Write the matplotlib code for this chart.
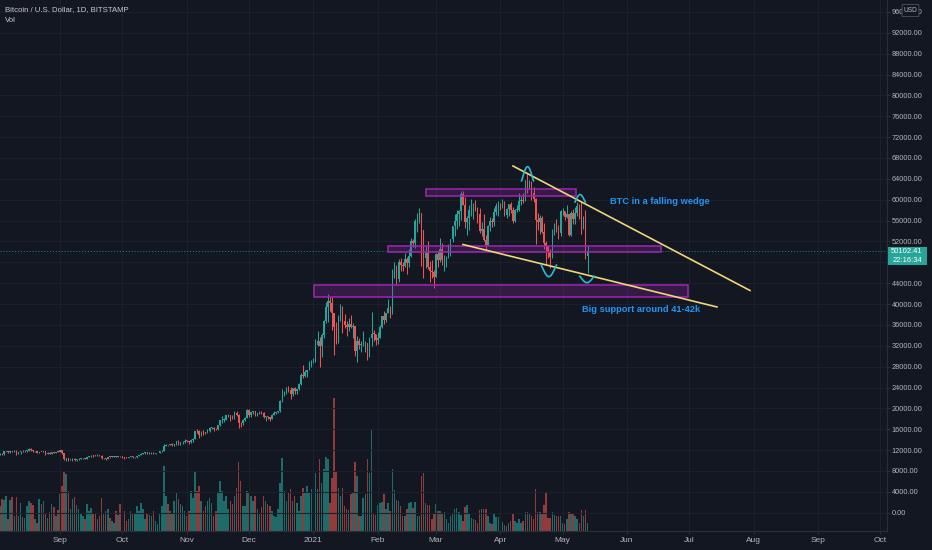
import numpy as np
import pandas as pd
import matplotlib
matplotlib.use("Agg")
import matplotlib.pyplot as plt
import matplotlib.dates as mdates
from matplotlib.patches import Rectangle, FancyBboxPatch

# daily candles, Bitstamp BTC/USD, from 2020-08-03 to 2021-05-13
START = "2020-08-03"
FIRST_OPEN = 11060

closes = [
    # Aug
    11230, 11190, 11740, 11770, 11600, 11750, 11680, 11880, 11400, 11580,
    11780, 11770, 11860, 11910, 12300, 11960, 11750, 11870, 11520, 11680,
    11650, 11750, 11330, 11470, 11330, 11540, 11510, 11710, 11680,
    # Sep
    11970, 11410, 10250, 10510, 10170, 10280, 10370, 10130, 10240, 10370,
    10400, 10440, 10330, 10680, 10790, 10960, 10950, 10940, 11090, 10920,
    10420, 10540, 10250, 10740, 10690, 10730, 10780, 10700, 10840, 10780,
    # Oct
    10620, 10570, 10550, 10670, 10790, 10600, 10670, 10930, 11060, 11300,
    11370, 11540, 11430, 11430, 11500, 11330, 11370, 11520, 11750, 11920,
    12820, 12990, 12940, 13130, 13030, 13070, 13650, 13280, 13460, 13560, 13800,
    # Nov
    13760, 13550, 14030, 14160, 15590, 15580, 14840, 15480, 15330, 15310,
    15700, 16300, 16330, 16070, 15960, 16730, 17680, 17800, 17820, 18680,
    18710, 18420, 18370, 19160, 18730, 17150, 17140, 17720, 18180, 19700,
    # Dec
    18800, 19220, 19450, 18700, 19150, 19360, 19170, 18320, 18550, 18250,
    18040, 18800, 19170, 19280, 19440, 21350, 22800, 23130, 23870, 23480,
    22740, 23820, 23250, 23730, 24710, 26490, 26280, 27030, 27360, 28880, 28990,
    # Jan
    29390, 32200, 33000, 31990, 33990, 36820, 39370, 40670, 40240, 38240,
    35540, 34010, 37390, 39160, 36830, 36070, 35530, 36250, 35530, 35800,
    31000, 32990, 32090, 32280, 32360, 32550, 30400, 33470, 34300, 34290, 33110,
    # Feb
    33540, 35510, 37670, 36950, 38300, 39250, 38900, 46450, 46480, 44870,
    48010, 47450, 47200, 48580, 47910, 49150, 52150, 51680, 55890, 55920,
    57490, 54210, 48890, 49700, 47100, 46340, 46190, 45140,
    # Mar
    49630, 48380, 50540, 48370, 48760, 48880, 50970, 52380, 54880, 55860,
    57330, 57800, 61180, 59000, 55640, 56430, 58070, 58080, 58420, 58100,
    57350, 54090, 54340, 52300, 51300, 55030, 55860, 55780, 57600, 58760, 58800,
    # Apr
    58740, 58970, 57060, 58200, 59130, 57990, 56000, 58090, 58100, 59770,
    59990, 59830, 63580, 62960, 63160, 61330, 60050, 56150, 55660, 56470,
    53900, 51700, 51140, 50050, 49100, 54040, 55030, 54820, 53560, 57750,
    # May
    57830, 56630, 57200, 53330, 57420, 56400, 57360, 58800, 58250, 55860,
    56700, 49150, 50102.41,
]

highs = [
    11480, 11410, 11800, 11900, 11920, 11800, 11800, 12070, 11950, 11670,
    11800, 11950, 11990, 11930, 12470, 12400, 12010, 11900, 11890, 11690,
    11720, 11820, 11770, 11540, 11580, 11560, 11580, 11720, 11780,
    12080, 11960, 11450, 10560, 10560, 10330, 10400, 10430, 10350, 10510,
    10420, 10480, 10460, 10750, 10940, 11100, 11040, 11030, 11180, 11070,
    10990, 10580, 10550, 10760, 10760, 10800, 10800, 10950, 10860, 10850,
    10930, 10650, 10600, 10700, 10800, 10800, 10690, 10950, 11100, 11500,
    11450, 11720, 11550, 11550, 11550, 11550, 11400, 11530, 11820, 12020,
    13220, 13180, 13010, 13170, 13330, 13250, 13790, 13850, 13640, 13680, 14100,
    13900, 13830, 14070, 14250, 15750, 15980, 15780, 15660, 15840, 15450,
    15980, 16480, 16480, 16340, 16150, 16880, 17850, 18480, 18110, 18800,
    18960, 18700, 18770, 19420, 19490, 18920, 17420, 17870, 18340, 19860,
    19920, 19310, 19580, 19520, 19180, 19420, 19410, 19300, 18630, 18570,
    18280, 18940, 19420, 19350, 19570, 21520, 23770, 23280, 24170, 24290,
    24090, 23860, 24120, 23800, 24780, 26860, 28380, 27440, 27380, 28990, 29300,
    29600, 33300, 34800, 33600, 34500, 36950, 40300, 41950, 41370, 41380,
    38300, 36620, 37830, 40100, 39700, 38000, 36800, 37300, 37860, 36400,
    35580, 33800, 33560, 32940, 34880, 32900, 32580, 33750, 38550, 34940, 34300,
    34730, 35960, 37680, 38620, 38320, 40960, 39700, 46800, 48150, 47400,
    48640, 48900, 48110, 49700, 49000, 50600, 52600, 52500, 56300, 57500,
    58350, 57500, 54200, 51300, 52050, 48300, 48400, 46600,
    49800, 50200, 52600, 51750, 49450, 49200, 51450, 52450, 54900, 57350,
    58100, 58000, 61700, 61700, 60600, 56900, 58950, 60100, 59450, 59900,
    58600, 58420, 55800, 57200, 53200, 55100, 56600, 56550, 58400, 59400, 59800,
    59450, 60100, 59700, 58500, 59250, 59470, 58650, 58130, 58900, 61200,
    60650, 61200, 63770, 64850, 63800, 63500, 62500, 60400, 57500, 57000,
    56800, 55450, 52100, 51200, 50500, 54300, 55500, 56400, 55200, 57950,
    58450, 57900, 58950, 57200, 57900, 58300, 58600, 59500, 59200, 59550,
    56850, 58000, 51400,
]

lows = [
    11000, 11000, 11080, 11580, 11350, 11520, 11560, 11650, 11150, 11260,
    11280, 11690, 11670, 11700, 11820, 11820, 11570, 11670, 11520, 11390,
    11560, 11590, 11150, 11270, 11170, 11310, 11470, 11510, 11600,
    11650, 11220, 10010, 9970, 9880, 10020, 9900, 9880, 10000, 10190,
    10220, 10290, 10220, 10280, 10640, 10680, 10760, 10820, 10900, 10810,
    10350, 10370, 10150, 10200, 10560, 10650, 10620, 10640, 10650, 10680,
    10450, 10380, 10500, 10520, 10600, 10540, 10550, 10550, 10830, 11060,
    11270, 11210, 11340, 11290, 11270, 11220, 11300, 11350, 11430, 11690,
    11900, 12700, 12730, 12900, 12880, 12790, 13060, 12950, 12990, 13140, 13420,
    13620, 13230, 13310, 13550, 14090, 15230, 14350, 14720, 14820, 15100,
    15280, 15440, 15990, 15720, 15810, 15890, 16560, 17240, 17360, 17760,
    18360, 17620, 18000, 18030, 18570, 16200, 16460, 16880, 17520, 18180,
    18330, 18350, 18920, 18600, 18550, 18950, 18900, 18220, 17660, 17910,
    17570, 18000, 18720, 19000, 19050, 19280, 21230, 22360, 22770, 23080,
    21870, 22380, 22720, 22700, 23430, 24540, 25840, 26070, 25920, 27340, 27850,
    28630, 28960, 32000, 28000, 29900, 33400, 36300, 36550, 38720, 35100,
    30300, 32400, 32500, 36700, 34400, 35400, 33880, 34800, 35420, 33400,
    30070, 28850, 31400, 30900, 31910, 30840, 29240, 29850, 31950, 32880, 32200,
    32300, 33450, 35450, 36180, 36610, 38230, 37400, 38100, 45000, 43750,
    44200, 46330, 46250, 47100, 45800, 47070, 48950, 50950, 50750, 53900,
    55500, 47200, 44900, 47000, 46800, 44200, 45000, 43000,
    45100, 47100, 48150, 47550, 46300, 47100, 48800, 49300, 51850, 53000,
    54300, 54980, 56100, 58900, 54600, 53300, 54100, 56900, 56300, 57850,
    55500, 53700, 53100, 52000, 50400, 51300, 53960, 54700, 54900, 57000, 56900,
    57950, 58500, 56900, 56500, 56800, 57400, 55500, 55700, 57700, 57900,
    59000, 59400, 59830, 61300, 62000, 60000, 59600, 51500, 54200, 53400,
    53600, 50600, 47500, 48800, 47000, 48800, 53300, 53900, 52400, 53100,
    57050, 56050, 56500, 53050, 52950, 55300, 55300, 56900, 56300, 53500,
    54400, 48600, 46000,
]

# volume in BTC
volumes = [
    6250, 8000, 7750, 8750, 3000, 7750, 8500, 3750, 8500, 3750,
    7000, 3500, 3250, 6250, 7500, 7000, 6500, 3000, 2000, 8000,
    6750, 7500, 4500, 3250, 4750, 6750, 6000, 3750, 5250,
    9250, 11250, 15000, 14250, 10000, 5500, 8000, 8500, 6500, 5500,
    4500, 3750, 3000, 6750, 5000, 5750, 4250, 4500, 3000, 3750,
    8250, 4250, 5000, 5500, 3250, 2500, 2000, 5000, 4000, 6750,
    6750, 5000, 2500, 3000, 5000, 4250, 4500, 6250, 5000, 7000,
    5500, 3000, 4500, 4000, 3750, 5000, 2500, 1750, 4500, 6250,
    16250, 8750, 6750, 5000, 4500, 7500, 9500, 8000, 6750, 6250, 5000,
    3750, 5000, 10000, 8250, 15000, 10000, 11250, 7500, 5000, 6250,
    7500, 8250, 7000, 3750, 5000, 9500, 12500, 10000, 7500, 8750,
    5500, 7500, 6750, 8750, 10750, 17250, 12500, 6250, 6250, 10000,
    9500, 8750, 7500, 8750, 5500, 4500, 6000, 8750, 7500, 6750,
    6250, 5000, 3750, 3500, 5500, 12000, 18250, 10000, 7500, 9500,
    10500, 7500, 8750, 7000, 5000, 8750, 10750, 9500, 11250, 9500, 10500,
    7500, 14500, 10500, 18000, 12000, 15500, 18500, 18000, 7000, 13250,
    33250, 14750, 10750, 8750, 10750, 6250, 5500, 5250, 9250, 9750,
    17250, 13750, 3750, 3750, 8250, 9250, 18000, 14500, 25500, 4500, 4000,
    6500, 7000, 7250, 9250, 5500, 7000, 5000, 15500, 10250, 7750,
    7500, 6250, 3750, 3750, 5500, 7000, 7250, 5750, 7250, 3750,
    3750, 13750, 14500, 7000, 6500, 6500, 3000, 4250,
    6750, 5000, 5000, 4500, 4750, 3000, 2000, 3750, 4500, 5500,
    5750, 4750, 4000, 2500, 6000, 6500, 4500, 3250, 3000, 2750,
    2000, 5250, 5500, 5500, 5500, 3750, 2000, 1750, 4250, 3500, 3500,
    2000, 2250, 1500, 1250, 2000, 2500, 4250, 2500, 2000, 3000,
    2000, 2500, 4750, 4750, 4500, 3750, 3000, 10500, 4750, 4750,
    4250, 6500, 9500, 3250, 3250, 4750, 4000, 3750, 3750, 3750,
    2000, 1750, 3000, 4750, 4500, 4250, 3750, 3000, 2000, 5250,
    3750, 5250, 2000,
]

LAST_PRICE = 50102.41
COUNTDOWN = "22:16:34"
HIDDEN_TICK = 48000  # sits under the last price tag

# drawings: (start, end, low price, high price)
zones = [
    ("2021-02-24 05:00", "2021-05-07 10:00", 60800, 62000),
    ("2021-02-05 22:00", "2021-06-17 10:00", 49900, 51130),
    ("2021-01-01 07:00", "2021-06-30 10:00", 41400, 43700),
]
# trend lines: (start, price, end, price)
wedge_lines = [
    ("2021-04-07 02:00", 66470, "2021-07-30 05:00", 42600),
    ("2021-03-14 00:00", 51420, "2021-07-14 07:00", 39440),
]
# arcs: (start, end, base price, amplitude)
arcs = [
    ("2021-04-11 19:00", "2021-04-16 10:00", 64360, 1970),
    ("2021-05-07 10:00", "2021-05-11 10:00", 59950, 1050),
    ("2021-04-21 10:00", "2021-04-27 07:00", 46860, -1610),
    ("2021-05-09 22:00", "2021-05-15 12:00", 45000, -900),
]
notes = [
    ("2021-05-23 19:00", 59570, "BTC in a falling wedge"),
    ("2021-05-10 07:00", 38860, "Big support around 41-42k"),
]

BG = "#131722"
GRID = "#1c202c"
TXT = "#b2b5be"
UP = "#26a69a"
DOWN = "#ef5350"
plt.rcParams["font.family"] = ["Liberation Sans", "DejaVu Sans"]


def d(s):
    return mdates.date2num(pd.Timestamp(s))


dates = pd.date_range(START, periods=len(closes), freq="D")
x = mdates.date2num(dates)
closes = np.array(closes, dtype=float)
opens = np.r_[FIRST_OPEN, closes[:-1]]
highs = np.maximum(np.array(highs, dtype=float), np.maximum(opens, closes))
lows = np.minimum(np.array(lows, dtype=float), np.minimum(opens, closes))
up = closes >= opens
cols = np.where(up, UP, DOWN)

W, H = 932, 550
fig = plt.figure(figsize=(W / 100, H / 100), dpi=100, facecolor=BG)
rect = [0, 19 / H, 887 / W, 531 / H]
axv = fig.add_axes(rect, facecolor=BG, zorder=0)
ax = fig.add_axes(rect, facecolor="none", zorder=1)

x0 = d(START) + 0.11
x1 = x0 + 887 / 2.077

# volume
vcols = [(0.15, 0.65, 0.6, 0.6) if u else (0.94, 0.33, 0.31, 0.58) for u in up]
axv.bar(x, volumes, width=0.72, color=vcols, linewidth=0)
axv.set_xlim(x0, x1)
axv.set_ylim(0, max(volumes) * 531 / 133)
axv.axis("off")

# candles
ax.vlines(x, lows, highs, color=cols, lw=0.75, zorder=3)
ax.bar(x, np.maximum(np.abs(closes - opens), 90), bottom=np.minimum(opens, closes),
       width=0.7, color=cols, linewidth=0, zorder=3)

ax.set_xlim(x0, x1)
ax.set_ylim(-3510, 98290)

yt = np.arange(0, 96001, 4000)
ax.set_yticks(yt)
ax.set_yticklabels(["" if v == HIDDEN_TICK else f"{v:.2f}" for v in yt])
ax.yaxis.tick_right()
months = pd.date_range("2020-09-01", "2021-10-01", freq="MS")
ax.set_xticks(mdates.date2num(months))
ax.set_xticklabels(["2021" if m.month == 1 else m.strftime("%b") for m in months])
ax.tick_params(axis="y", labelsize=5.3, labelcolor=TXT, color="#2a2e39", length=2, pad=1.5)
ax.tick_params(axis="x", labelsize=6, labelcolor=TXT, color="#2a2e39", length=2, pad=2.5)
ax.grid(color=GRID, lw=0.8, zorder=0)
for s in ["top", "left"]:
    ax.spines[s].set_visible(False)
for s in ["right", "bottom"]:
    ax.spines[s].set_color("#2a2e39")

# current price line
ax.axhline(LAST_PRICE, color=UP, lw=0.7, ls=(0, (1, 2)), alpha=0.8, zorder=2)

# zones, wedge, arcs, notes
for a, b, lo, hi in zones:
    ax.add_patch(Rectangle((d(a), lo), d(b) - d(a), hi - lo, facecolor=(0.61, 0.15, 0.69, 0.25),
                           edgecolor="#9c27b0", lw=1.1, zorder=4))
for a, pa, b, pb in wedge_lines:
    ax.plot([d(a), d(b)], [pa, pb], color="#f0d57a", lw=1.2, zorder=5)
for a, b, base, amp in arcs:
    t = np.linspace(-0.12, 1.12, 60)
    ax.plot(d(a) + (d(b) - d(a)) * t, base + amp * np.sin(np.pi * t), color="#2bbbd0", lw=1.2, zorder=5)
for a, p, s in notes:
    ax.text(d(a), p, s, color="#2196f3", fontsize=6.7, fontweight="bold", va="center", ha="left", zorder=6)

# header
fig.text(5 / W, 1 - 10 / H, "Bitcoin / U.S. Dollar, 1D, BITSTAMP", color="#c8cad0", fontsize=5.6, va="center")
fig.text(5 / W, 1 - 21 / H, "Vol", color="#c8cad0", fontsize=5.6, va="center")

# currency badge over the top price label
fig.add_artist(FancyBboxPatch((903 / W, 1 - 16 / H), 15 / W, 11 / H, boxstyle="round,pad=0.001",
                              transform=fig.transFigure, facecolor=BG, edgecolor="#50535e", lw=0.6, zorder=10))
fig.text(910.5 / W, 1 - 10.5 / H, "USD", color=TXT, fontsize=4.8, ha="center", va="center", zorder=11)

# last price tag
fig.add_artist(Rectangle((887.5 / W, 1 - 265 / H), 39 / W, 18 / H, transform=fig.transFigure,
                         facecolor=UP, edgecolor="none", zorder=10))
fig.text(907 / W, 1 - 251.5 / H, f"{LAST_PRICE:.2f}", color="white", fontsize=5.5, ha="center", va="center", zorder=11)
fig.text(907 / W, 1 - 260.5 / H, COUNTDOWN, color="white", fontsize=5.5, ha="center", va="center", zorder=11)

fig.savefig("out.png", dpi=100, facecolor=BG)
